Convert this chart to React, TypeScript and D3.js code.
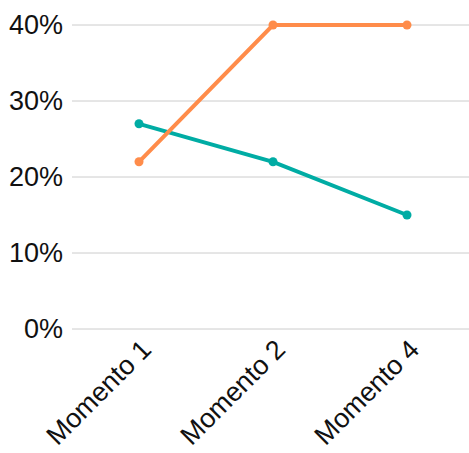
import { useEffect, useRef } from "react";
import * as d3 from "d3";

const categories = ["Momento 1", "Momento 2", "Momento 4"];
const tealValues = [27, 22, 15];
const orangeValues = [22, 40, 40];
const yTicks = [0, 10, 20, 30, 40];

const series = [
  { name: "teal", values: tealValues, color: "#00aca4" },
  { name: "orange", values: orangeValues, color: "#ff8c4a" },
];

const App = () => {
  const svgRef = useRef<SVGSVGElement>(null);

  useEffect(() => {
    if (!svgRef.current) return;
    const svg = d3.select(svgRef.current);
    svg.selectAll("*").remove();

    const width = 469;
    const height = 453;
    const margin = { top: 25, right: 0, bottom: 124, left: 72 };

    const x = d3
      .scalePoint<string>()
      .domain(categories)
      .range([margin.left, width + 5])
      .padding(0.5);
    const y = d3
      .scaleLinear()
      .domain([0, 40])
      .range([height - margin.bottom, margin.top]);

    const font = "'Liberation Sans', Arial, sans-serif";

    // grid
    svg
      .append("g")
      .selectAll("line")
      .data(yTicks)
      .join("line")
      .attr("x1", margin.left)
      .attr("x2", width)
      .attr("y1", (d) => y(d))
      .attr("y2", (d) => y(d))
      .attr("stroke", "#cccccc")
      .attr("stroke-width", 1);

    svg
      .append("g")
      .selectAll("text")
      .data(yTicks)
      .join("text")
      .attr("x", 63)
      .attr("y", (d) => y(d))
      .attr("dy", "0.35em")
      .attr("text-anchor", "end")
      .attr("font-family", font)
      .attr("font-size", 27)
      .attr("fill", "#111")
      .text((d) => `${d}%`);

    svg
      .append("g")
      .selectAll("text")
      .data(categories)
      .join("text")
      .attr("transform", (d) => `translate(${(x(d) ?? 0) + 14},${y(0) + 22}) rotate(-45)`)
      .attr("text-anchor", "end")
      .attr("font-family", font)
      .attr("font-size", 27)
      .attr("fill", "#111")
      .text((d) => d);

    const line = d3
      .line<number>()
      .x((_, i) => x(categories[i]) ?? 0)
      .y((d) => y(d));

    series.forEach((s) => {
      const g = svg.append("g");
      g.append("path")
        .attr("d", line(s.values))
        .attr("fill", "none")
        .attr("stroke", s.color)
        .attr("stroke-width", 4);
      g.selectAll("circle")
        .data(s.values)
        .join("circle")
        .attr("cx", (_, i) => x(categories[i]) ?? 0)
        .attr("cy", (d) => y(d))
        .attr("r", 4.5)
        .attr("fill", s.color);
    });
  }, []);

  return (
    <svg
      ref={svgRef}
      width={469}
      height={453}
      style={{ position: "absolute", left: 0, top: 0 }}
    ></svg>
  );
};

export default App;
